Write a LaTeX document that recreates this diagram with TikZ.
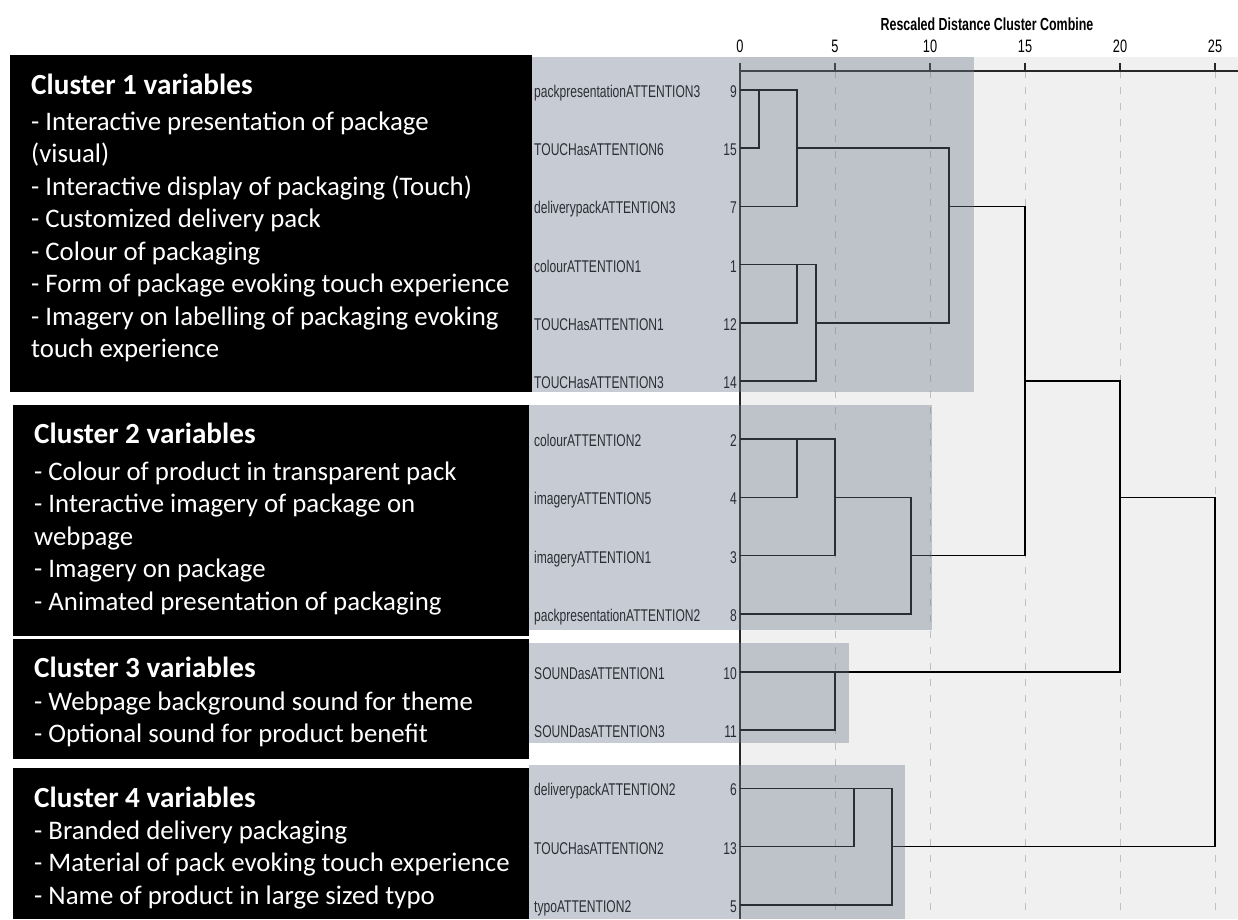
\documentclass[tikz,border=0pt]{standalone}
\usepackage{fontspec}
\setmainfont{Carlito}
\newfontfamily\narrowfont{Liberation Sans}[FakeStretch=0.71]
\definecolor{shadecol}{RGB}{110,120,140}
\definecolor{chartbg}{RGB}{240,240,240}
\definecolor{axiscol}{RGB}{40,40,40}
\definecolor{gridcol}{RGB}{190,190,190}
\begin{document}
\begin{tikzpicture}[x=1pt,y=-1pt,
  den/.style={line width=1.7pt, black},
  gridline/.style={draw=gridcol, line width=1pt, dash pattern=on 7pt off 9pt},
  lab/.style={inner sep=0pt, font={\narrowfont\fontsize{17}{19}\selectfont}, text=black},
  ticklab/.style={inner sep=0pt, font={\narrowfont\fontsize{18}{20}\selectfont}, text=black},
  ctitle/.style={inner sep=0pt, font={\narrowfont\bfseries\fontsize{17.5}{19}\selectfont}, text=black},
  body/.style={inner sep=0pt, anchor=base west, text=white, font={\fontsize{26.8}{32}\selectfont}},
  head/.style={inner sep=0pt, anchor=base west, text=white, font={\bfseries\fontsize{29.2}{34}\selectfont}},
  blackbox/.style={fill=black, draw=none},
  shade/.style={fill=shadecol, fill opacity=0.38, draw=none}]
\fill[white] (0,0) rectangle (1238,919);
\useasboundingbox (0,0) rectangle (1238,919);
% chart background
\fill[chartbg] (740,57) rectangle (1238,919);
\foreach \x in {835,930,1025,1120,1215} \draw[gridline] (\x,71) -- (\x,919);
% axis
\draw[line width=2pt, axiscol] (740,71) -- (1238,71);
\foreach \x in {740,835,930,1025,1120,1215} \draw[line width=1.5pt, axiscol] (\x,63) -- (\x,71);
\draw[line width=1.5pt, axiscol] (740,71) -- (740,919);
% tick labels and title
\node[ctitle] (title) at (987,24.5) {Rescaled Distance Cluster Combine};
\node[ticklab] (t0) at (740,46.5) {0};
\node[ticklab] (t5) at (835,46.5) {5};
\node[ticklab] (t10) at (930,46.5) {10};
\node[ticklab] (t15) at (1025,46.5) {15};
\node[ticklab] (t20) at (1120,46.5) {20};
\node[ticklab] (t25) at (1215,46.5) {25};
% level coordinates
\coordinate (u1) at (759,71);
\coordinate (u3) at (797,71);
\coordinate (u4) at (816,71);
\coordinate (u5) at (835,71);
\coordinate (u6) at (854,71);
\coordinate (u8) at (892,71);
\coordinate (u9) at (911,71);
\coordinate (u11) at (949,71);
\coordinate (u15) at (1025,71);
\coordinate (u20) at (1120,71);
\coordinate (u25) at (1215,71);
% leaves
\coordinate (L9) at (740,90);
\coordinate (L15) at (740,148.2);
\coordinate (L7) at (740,206.4);
\coordinate (L1) at (740,264.6);
\coordinate (L12) at (740,322.8);
\coordinate (L14) at (740,381);
\coordinate (L2) at (740,439.2);
\coordinate (L4) at (740,497.4);
\coordinate (L3) at (740,555.6);
\coordinate (L8) at (740,613.8);
\coordinate (L10) at (740,672);
\coordinate (L11) at (740,730.2);
\coordinate (L6) at (740,788.4);
\coordinate (L13) at (740,846.6);
\coordinate (L5) at (740,904.8);
% dendrogram
\draw[den] (L9) -- (L9 -| u3) -- (L7 -| u3) -- (L7);
\draw[den] (L15) -- (L15 -| u1) -- (L9 -| u1);
\draw[den] (L15 -| u3) -- (L15 -| u11) -- (L12 -| u11) -- (L12 -| u4);
\draw[den] (L1) -- (L1 -| u4) -- (L14 -| u4) -- (L14);
\draw[den] (L12) -- (L12 -| u3) -- (L1 -| u3);
\draw[den] (L7 -| u11) -- (L7 -| u15) -- (L3 -| u15) -- (L3 -| u9);
\draw[den] (L2) -- (L2 -| u5) -- (L3 -| u5) -- (L3);
\draw[den] (L4) -- (L4 -| u3) -- (L2 -| u3);
\draw[den] (L4 -| u5) -- (L4 -| u9) -- (L8 -| u9) -- (L8);
\draw[den] (L14 -| u15) -- (L14 -| u20) -- (L10 -| u20) -- (L10);
\draw[den] (L11) -- (L11 -| u5) -- (L10 -| u5);
\draw[den] (L4 -| u20) -- (L4 -| u25) -- (L13 -| u25) -- (L13 -| u8);
\draw[den] (L6) -- (L6 -| u8) -- (L5 -| u8) -- (L5);
\draw[den] (L13) -- (L13 -| u6) -- (L6 -| u6);
% leaf labels
\foreach \k/\n/\txt in {L9/9/packpresentationATTENTION3, L15/15/TOUCHasATTENTION6, L7/7/deliverypackATTENTION3, L1/1/colourATTENTION1, L12/12/TOUCHasATTENTION1, L14/14/TOUCHasATTENTION3, L2/2/colourATTENTION2, L4/4/imageryATTENTION5, L3/3/imageryATTENTION1, L8/8/packpresentationATTENTION2, L10/10/SOUNDasATTENTION1, L11/11/SOUNDasATTENTION3, L6/6/deliverypackATTENTION2, L13/13/TOUCHasATTENTION2, L5/5/typoATTENTION2} {
  \node[lab, anchor=base west] (name\n) at ([shift={(-206pt,-7.5pt)}]\k) {\txt};
  \node[lab, anchor=base east] (num\n) at ([shift={(-3pt,-7.5pt)}]\k) {\n};
}
% shaded cluster boxes
\fill[shade] (532,57) rectangle (974,392);
\fill[shade] (529,405) rectangle (932,630);
\fill[shade] (529,643) rectangle (849,743);
\fill[shade] (529,765) rectangle (905,919);
% black boxes
\fill[blackbox] (10,55) rectangle (532,392);
\fill[blackbox] (13,405) rectangle (529,636);
\fill[blackbox] (13,639) rectangle (529,759);
\fill[blackbox] (13,768) rectangle (529,919);
% cluster 1 text
\node[head] (c1t) at (31,94) {Cluster 1 variables};
\node[body] (c1a) at (31,130) {- Interactive presentation of package};
\node[body] (c1b) at (31,162.5) {(visual)};
\node[body] (c1c) at (31,195) {- Interactive display of packaging (Touch)};
\node[body] (c1d) at (31,227.5) {- Customized delivery pack};
\node[body] (c1e) at (31,260) {- Colour of packaging};
\node[body] (c1f) at (31,292.5) {- Form of package evoking touch experience};
\node[body] (c1g) at (31,325) {- Imagery on labelling of packaging evoking};
\node[body] (c1h) at (31,357.5) {touch experience};
% cluster 2 text
\node[head] (c2t) at (34,443) {Cluster 2 variables};
\node[body] (c2a) at (34,480) {- Colour of product in transparent pack};
\node[body] (c2b) at (34,512.5) {- Interactive imagery of package on};
\node[body] (c2c) at (34,545) {webpage};
\node[body] (c2d) at (34,577.5) {- Imagery on package};
\node[body] (c2e) at (34,610) {- Animated presentation of packaging};
% cluster 3 text
\node[head] (c3t) at (34,677) {Cluster 3 variables};
\node[body] (c3a) at (34,710) {- Webpage background sound for theme};
\node[body] (c3b) at (34,742) {- Optional sound for product benefit};
% cluster 4 text
\node[head] (c4t) at (34,807) {Cluster 4 variables};
\node[body] (c4a) at (34,839) {- Branded delivery packaging};
\node[body] (c4b) at (34,871.5) {- Material of pack evoking touch experience};
\node[body] (c4c) at (34,904) {- Name of product in large sized typo};
\end{tikzpicture}
\end{document}
